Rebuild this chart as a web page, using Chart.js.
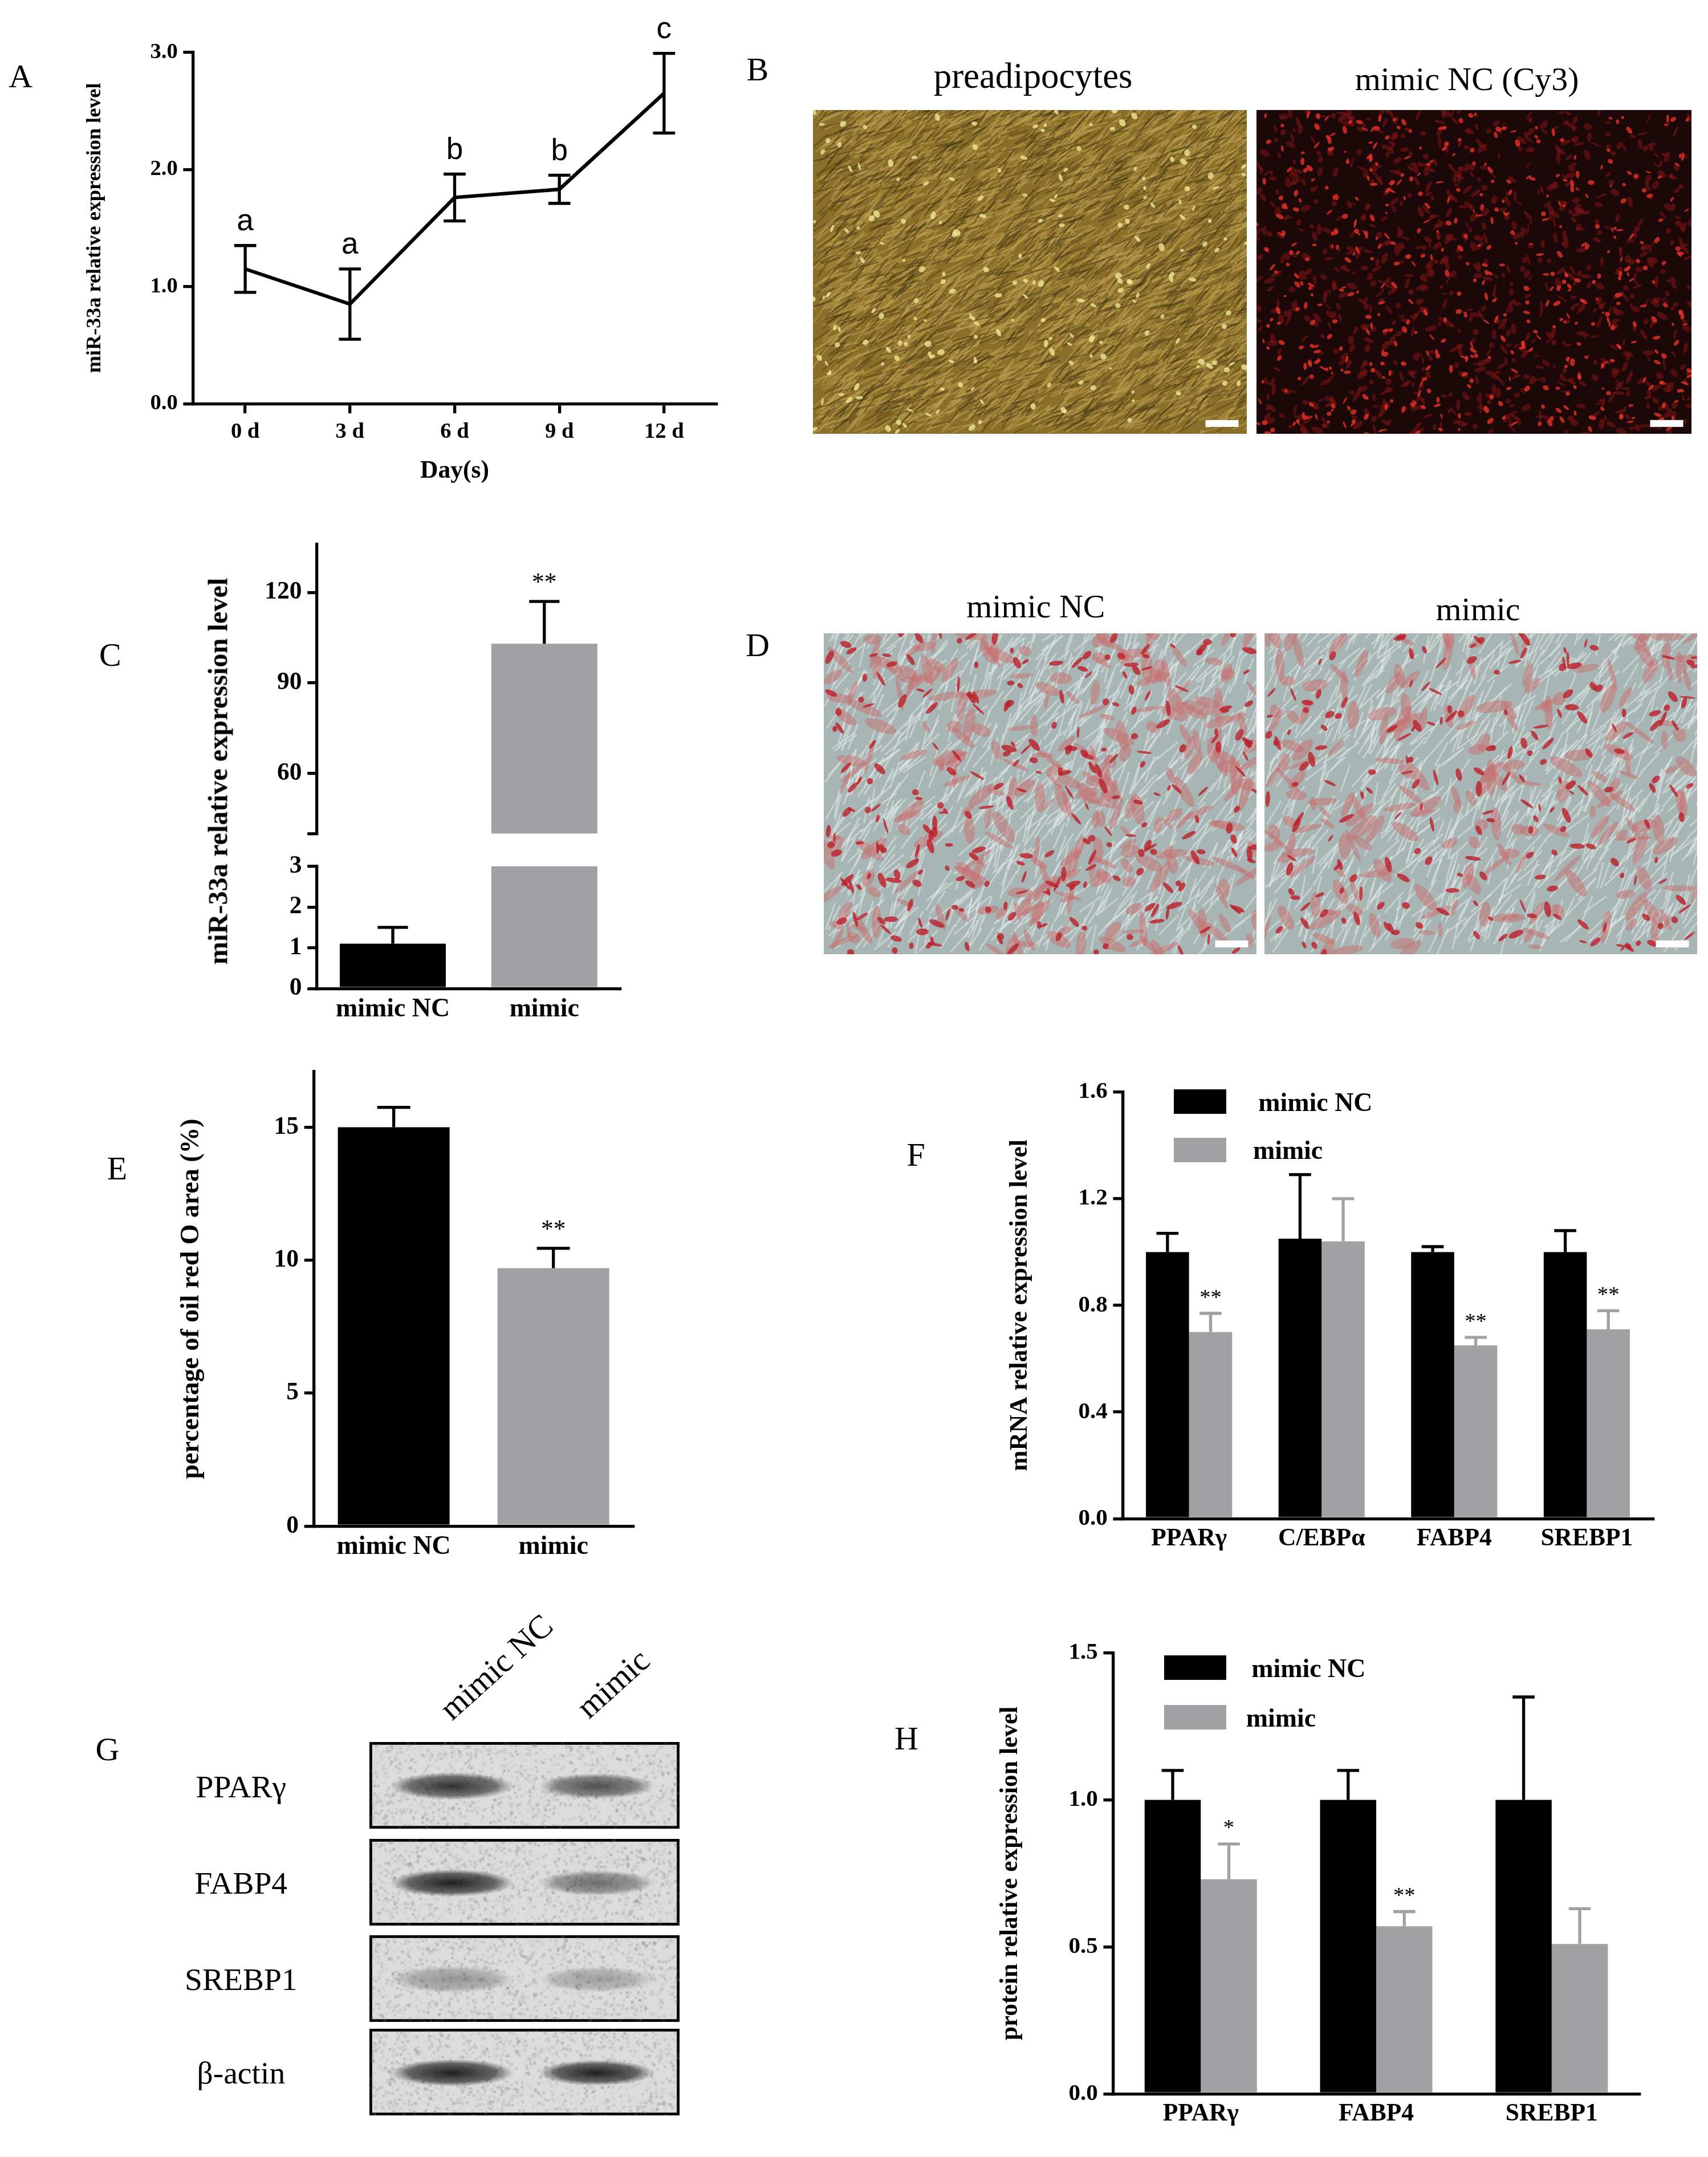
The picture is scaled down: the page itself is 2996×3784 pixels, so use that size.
<!DOCTYPE html>
<html>
<head>
<meta charset="utf-8">
<script src="https://cdn.jsdelivr.net/npm/chart.js@4.4.1/dist/chart.umd.min.js"></script>
<style>
body{margin:0;background:#fff;width:2996px;height:3784px;position:relative;overflow:hidden;font-family:'Liberation Serif',serif;}
.box{position:absolute;}
.txt{position:absolute;white-space:nowrap;color:#000;font-family:'Liberation Serif',serif;}
</style>
</head>
<body>
<script>
// ---- data ----
var daysLabels = ['0 d', '3 d', '6 d', '9 d', '12 d'];
var daysValues = [1.15, 0.85, 1.76, 1.83, 2.65];
var daysErr = [0.2, 0.3, 0.2, 0.12, 0.34];
var daysLetters = ['a', 'a', 'b', 'b', 'c'];

var groupLabels = ['mimic NC', 'mimic'];
var mirValues = [1.1, 103];
var mirErr = [0.4, 14];
var mirStars = ['', '**'];

var oilValues = [15.0, 9.7];
var oilErr = [0.75, 0.75];
var oilStars = ['', '**'];

var mrnaLabels = ['PPARγ', 'C/EBPα', 'FABP4', 'SREBP1'];
var mrnaNC = [1.0, 1.05, 1.0, 1.0];
var mrnaNCErr = [0.07, 0.24, 0.02, 0.08];
var mrnaMimic = [0.70, 1.04, 0.65, 0.71];
var mrnaMimicErr = [0.07, 0.16, 0.03, 0.07];
var mrnaStars = ['**', '', '**', '**'];

var protLabels = ['PPARγ', 'FABP4', 'SREBP1'];
var protNC = [1.0, 1.0, 1.0];
var protNCErr = [0.1, 0.1, 0.35];
var protMimic = [0.73, 0.57, 0.51];
var protMimicErr = [0.12, 0.05, 0.12];
var protStars = ['*', '**', ''];

var blotRows = ['PPARγ', 'FABP4', 'SREBP1', 'β-actin'];

// ---- layout helpers ----
var S = 2996 / 1240;
var FONT = 'Liberation Serif';

function text(str, x, y, size, opts) {
  opts = opts || {};
  var d = document.createElement('div');
  d.className = 'txt';
  d.textContent = str;
  d.style.fontSize = (size * S) + 'px';
  d.style.fontWeight = opts.bold ? 'bold' : 'normal';
  d.style.fontFamily = opts.sans ? 'Liberation Sans' : FONT;
  d.style.left = (x * S) + 'px';
  d.style.top = (y * S) + 'px';
  d.style.transform = 'translate(-50%,-50%)' + (opts.rot ? ' rotate(' + opts.rot + 'deg)' : '');
  document.body.appendChild(d);
}

function canvasAt(l, t, w, h) {
  var c = document.createElement('canvas');
  c.className = 'box';
  c.width = Math.round(w * S);
  c.height = Math.round(h * S);
  c.style.left = (l * S) + 'px';
  c.style.top = (t * S) + 'px';
  document.body.appendChild(c);
  return c;
}

var errPlugin = {
  id: 'errbars',
  afterDatasetsDraw: function (chart) {
    var ctx = chart.ctx, ys = chart.scales.y;
    ctx.save();
    ctx.beginPath();
    ctx.rect(chart.chartArea.left - 40, chart.chartArea.top - 200, chart.chartArea.right - chart.chartArea.left + 80, chart.chartArea.bottom - chart.chartArea.top + 200);
    ctx.clip();
    chart.data.datasets.forEach(function (ds, i) {
      if (!ds.err) return;
      var meta = chart.getDatasetMeta(i);
      meta.data.forEach(function (el, j) {
        var e = ds.err[j];
        if (e == null) return;
        var v = ds.data[j];
        var top = ys.getPixelForValue(v + e);
        var bot = ds.both ? ys.getPixelForValue(v - e) : ys.getPixelForValue(v);
        var cap = (ds.cap || 10) * S;
        ctx.strokeStyle = ds.errColor || '#000';
        ctx.lineWidth = 2.2 * S;
        ctx.beginPath();
        ctx.moveTo(el.x, top); ctx.lineTo(el.x, bot);
        ctx.moveTo(el.x - cap, top); ctx.lineTo(el.x + cap, top);
        if (ds.both) { ctx.moveTo(el.x - cap, bot); ctx.lineTo(el.x + cap, bot); }
        ctx.stroke();
        if (ds.marks && ds.marks[j]) {
          ctx.fillStyle = '#000';
          ctx.font = (ds.markSize || 16) * S + 'px ' + (ds.markFont || FONT);
          ctx.textAlign = 'center';
          ctx.textBaseline = 'bottom';
          ctx.fillText(ds.marks[j], el.x, top - (ds.markGap || 2) * S);
        }
      });
    });
    ctx.restore();
  }
};

// area: plot area in display coords; yW/xH: axis sizes
function makeChart(area, yW, xH, type, labels, datasets, yopt, xopt) {
  var padT = 40, padR = 20;
  var w = area.r - area.l + yW + padR, h = area.b - area.t + padT + xH;
  var c = canvasAt(area.l - yW, area.t - padT, w, h);
  var lw = 2.2 * S;
  var yScale = {
    min: yopt.min, max: yopt.max,
    ticks: { stepSize: yopt.step, color: '#000', padding: 4 * S,
      font: { family: FONT, weight: 'bold', size: (yopt.tickSize || 17) * S },
      callback: function (v) { return yopt.fmt ? yopt.fmt(v) : v; } },
    grid: { drawOnChartArea: false, drawTicks: true, tickLength: 7 * S, color: '#000', lineWidth: lw },
    border: { display: true, color: '#000', width: lw },
    title: { display: !!yopt.title, text: yopt.title || '', color: '#000', padding: 0,
      font: { family: FONT, weight: 'bold', size: (yopt.titleSize || 18) * S } },
    afterFit: function (s) { s.width = yW * S; }
  };
  if (yopt.tickList) yScale.afterBuildTicks = function (s) { s.ticks = yopt.tickList.map(function (v) { return { value: v }; }); };
  var xScale = {
    type: 'category', offset: true,
    display: xopt.display !== false,
    ticks: { color: '#000', padding: 4 * S, font: { family: FONT, weight: 'bold', size: (xopt.tickSize || 19) * S } },
    grid: { drawOnChartArea: false, drawTicks: !!xopt.ticks, tickLength: 7 * S, color: '#000', lineWidth: lw, offset: false },
    border: { display: xopt.border !== false, color: '#000', width: lw },
    title: { display: !!xopt.title, text: xopt.title || '', color: '#000', padding: 2 * S,
      font: { family: FONT, weight: 'bold', size: 18 * S } },
    afterFit: function (s) { s.height = xH * S; }
  };
  return new Chart(c.getContext('2d'), {
    type: type,
    data: { labels: labels, datasets: datasets },
    options: {
      responsive: false, animation: false, devicePixelRatio: 1,
      layout: { padding: { top: padT * S, right: padR * S, left: 0, bottom: 0 } },
      plugins: { legend: { display: false }, tooltip: { enabled: false } },
      scales: { x: xScale, y: yScale }
    },
    plugins: [errPlugin]
  });
}

// ---- Panel A: time course ----
text('A', 15, 55, 24);
makeChart({ l: 140, t: 38, r: 520, b: 293 }, 80, 62, 'line', daysLabels, [{
  data: daysValues, err: daysErr, both: true, cap: 8, marks: daysLetters, markSize: 22, markFont: 'Liberation Sans', markGap: 6,
  borderColor: '#000', borderWidth: 2.6 * S, pointRadius: 0, tension: 0
}], { min: 0, max: 3, step: 1, fmt: function (v) { return v.toFixed(1); }, title: 'miR-33a relative expression level', titleSize: 15, tickSize: 16 },
  { ticks: true, title: 'Day(s)', tickSize: 16 });

// ---- Panel C: broken axis bar ----
text('C', 80, 475, 24);
makeChart({ l: 230, t: 395, r: 450, b: 620 }, 70, 0, 'bar', groupLabels, [{
  data: mirValues, err: [null, mirErr[1]], marks: mirStars, markSize: 18, markGap: 4, cap: 11,
  backgroundColor: ['#000', '#a1a1a4'], barPercentage: 0.7, categoryPercentage: 1
}], { min: 40, max: 136, tickList: [40, 60, 90, 120], fmt: function (v) { return v === 40 ? '' : v; }, tickSize: 18 },
  { display: false });
makeChart({ l: 230, t: 629, r: 450, b: 718 }, 70, 50, 'bar', groupLabels, [{
  data: mirValues, err: [mirErr[0], null], cap: 11,
  backgroundColor: ['#000', '#a1a1a4'], barPercentage: 0.7, categoryPercentage: 1
}], { min: 0, max: 3, step: 1, tickSize: 18 }, { tickSize: 19 });
text('miR-33a relative expression level', 158, 560, 20, { bold: true, rot: -90 });

// ---- Panel E ----
text('E', 85, 848, 24);
makeChart({ l: 228, t: 778, r: 460, b: 1108 }, 100, 45, 'bar', groupLabels, [{
  data: oilValues, err: oilErr, marks: oilStars, markSize: 18, markGap: 4, cap: 12,
  backgroundColor: ['#000', '#a1a1a4'], barPercentage: 0.7, categoryPercentage: 1
}], { min: 0, max: 17.1, tickList: [0, 5, 10, 15], title: 'percentage of oil red O area (%)', titleSize: 19, tickSize: 18 },
  { tickSize: 19 });

// ---- Panel F ----
text('F', 665, 838, 24);
makeChart({ l: 815, t: 793, r: 1200, b: 1103 }, 85, 45, 'bar', mrnaLabels, [
  { data: mrnaNC, err: mrnaNCErr, cap: 8, backgroundColor: '#000', barPercentage: 1, categoryPercentage: 0.65 },
  { data: mrnaMimic, err: mrnaMimicErr, cap: 8, marks: mrnaStars, markSize: 16, markGap: 3, backgroundColor: '#a1a1a4', errColor: '#a1a1a4', barPercentage: 1, categoryPercentage: 0.65 }
], { min: 0, max: 1.6, step: 0.4, fmt: function (v) { return v.toFixed(1); }, title: 'mRNA relative expression level', titleSize: 18, tickSize: 17 },
  { tickSize: 18 });
canvasAt(852, 791, 38, 18).getContext('2d').fillRect(0, 0, 1e4, 1e4);
var gF = canvasAt(852, 826, 38, 18).getContext('2d'); gF.fillStyle = '#a1a1a4'; gF.fillRect(0, 0, 1e4, 1e4);
text('mimic NC', 955, 800, 19, { bold: true });
text('mimic', 935, 835, 19, { bold: true });

// ---- Panel H ----
text('H', 658, 1262, 24);
makeChart({ l: 808, t: 1200, r: 1190, b: 1520 }, 85, 45, 'bar', protLabels, [
  { data: protNC, err: protNCErr, cap: 8, backgroundColor: '#000', barPercentage: 1, categoryPercentage: 0.64 },
  { data: protMimic, err: protMimicErr, cap: 8, marks: protStars, markSize: 16, markGap: 3, backgroundColor: '#a1a1a4', errColor: '#a1a1a4', barPercentage: 1, categoryPercentage: 0.64 }
], { min: 0, max: 1.5, step: 0.5, fmt: function (v) { return v.toFixed(1); }, title: 'protein relative expression level', titleSize: 18, tickSize: 17 },
  { tickSize: 18 });
canvasAt(845, 1202, 45, 18).getContext('2d').fillRect(0, 0, 1e4, 1e4);
var gH = canvasAt(845, 1238, 45, 18).getContext('2d'); gH.fillStyle = '#a1a1a4'; gH.fillRect(0, 0, 1e4, 1e4);
text('mimic NC', 950, 1211, 19, { bold: true });
text('mimic', 930, 1247, 19, { bold: true });

// ---- micrograph stand-ins (B, D) ----
var seed = 7;
function rnd() { seed = (seed * 16807) % 2147483647; return seed / 2147483647; }

function photo(l, t, w, h, bg, draw) {
  var c = canvasAt(l, t, w, h), g = c.getContext('2d');
  g.fillStyle = bg; g.fillRect(0, 0, c.width, c.height);
  draw(g, c.width, c.height);
  g.fillStyle = '#fff'; g.fillRect(c.width - 30 * S, c.height - 10 * S, 24 * S, 5 * S);
}
function streaks(g, W, H, n, col, len, thick, ang) {
  g.strokeStyle = col; g.lineWidth = thick;
  for (var i = 0; i < n; i++) {
    var x = rnd() * W, y = rnd() * H, a = ang + (rnd() - 0.5) * 0.8;
    g.beginPath(); g.moveTo(x, y); g.lineTo(x + Math.cos(a) * len, y + Math.sin(a) * len); g.stroke();
  }
}
function blobs(g, W, H, n, col, rx, ry) {
  g.fillStyle = col;
  for (var i = 0; i < n; i++) {
    g.beginPath();
    g.ellipse(rnd() * W, rnd() * H, rx * (0.5 + rnd()), ry * (0.5 + rnd()), rnd() * Math.PI, 0, 2 * Math.PI);
    g.fill();
  }
}

text('B', 550, 50, 24);
text('preadipocytes', 750, 55, 26);
text('mimic NC (Cy3)', 1065, 57, 24);
photo(590, 80, 315, 235, '#8a6f2a', function (g, W, H) {
  streaks(g, W, H, 2500, 'rgba(190,160,80,0.5)', 18 * S, 1.2 * S, -0.6);
  streaks(g, W, H, 1500, 'rgba(70,55,20,0.5)', 14 * S, 1 * S, -0.6);
  blobs(g, W, H, 200, 'rgba(240,230,150,0.8)', 2 * S, 1.5 * S);
});
photo(912, 80, 316, 235, '#1c0808', function (g, W, H) {
  blobs(g, W, H, 900, 'rgba(120,20,20,0.6)', 3 * S, 1.5 * S);
  blobs(g, W, H, 500, 'rgba(230,50,40,0.8)', 2 * S, 1.2 * S);
});

text('D', 550, 468, 24);
text('mimic NC', 752, 440, 24);
text('mimic', 1073, 442, 24);
function oilPhoto(l, n) {
  photo(l, 460, 314, 233, '#a7b6b4', function (g, W, H) {
    streaks(g, W, H, 900, 'rgba(230,235,235,0.5)', 20 * S, 1.2 * S, -1.0);
    blobs(g, W, H, n, 'rgba(200,110,110,0.5)', 9 * S, 3 * S);
    blobs(g, W, H, n, 'rgba(190,30,40,0.8)', 4 * S, 1.6 * S);
  });
}
oilPhoto(598, 260);
oilPhoto(918, 200);

// ---- Panel G: western blot stand-in ----
text('G', 78, 1270, 24);
text('mimic NC', 360, 1210, 24, { rot: -42 });
text('mimic', 445, 1222, 24, { rot: -42 });
var rowTops = [1265, 1335, 1405, 1473];
var bandStrength = [[0.85, 0.7], [0.95, 0.55], [0.35, 0.3], [0.95, 0.95]];
blotRows.forEach(function (name, i) {
  text(name, 175, rowTops[i] + 32, 23);
  var c = canvasAt(268, rowTops[i], 225, 63), g = c.getContext('2d');
  g.fillStyle = '#000'; g.fillRect(0, 0, c.width, c.height);
  g.fillStyle = '#dcdcdc'; g.fillRect(2 * S, 2 * S, c.width - 4 * S, c.height - 4 * S);
  for (var k = 0; k < 1500; k++) { g.fillStyle = 'rgba(120,120,120,' + (rnd() * 0.25) + ')'; g.fillRect(rnd() * c.width, rnd() * c.height, 2 * S, 2 * S); }
  [[60, 45], [165, 42]].forEach(function (b, j) {
    var s = bandStrength[i][j];
    var gr = g.createRadialGradient(b[0] * S, 32 * S, 0, b[0] * S, 32 * S, b[1] * S);
    gr.addColorStop(0, 'rgba(20,20,20,' + s + ')');
    gr.addColorStop(0.7, 'rgba(40,40,40,' + s * 0.7 + ')');
    gr.addColorStop(1, 'rgba(60,60,60,0)');
    g.save(); g.translate(b[0] * S, 32 * S); g.scale(1, 0.22); g.translate(-b[0] * S, -32 * S);
    g.fillStyle = gr; g.beginPath(); g.arc(b[0] * S, 32 * S, b[1] * S, 0, 2 * Math.PI); g.fill();
    g.restore();
  });
});
</script>
</body>
</html>
